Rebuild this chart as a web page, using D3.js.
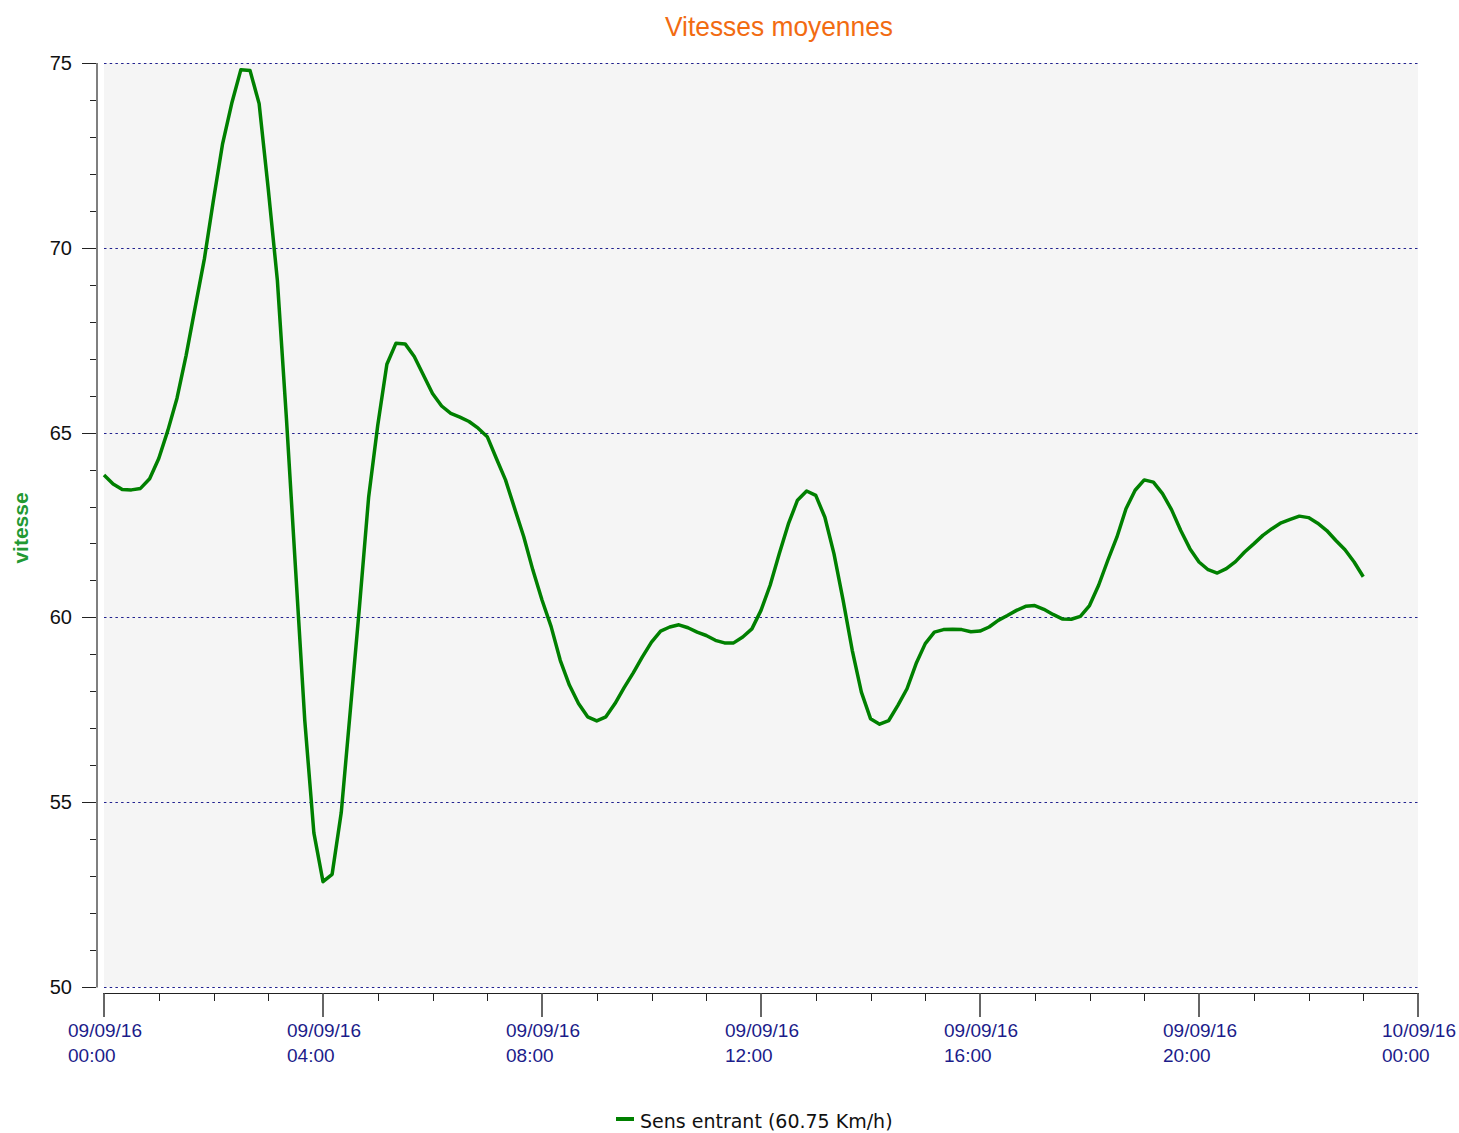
<!DOCTYPE html>
<html lang="fr">
<head>
  <meta charset="UTF-8" />
  <title>Vitesses moyennes</title>

  <!-- D3.js v7 -->
  <script src="https://d3js.org/d3.v7.min.js"></script>

  <style>
    body {
      margin: 0;
      background-color: #ffffff;
    }

    svg {
      display: block;
    }

    .title {
      font-family: "Liberation Sans", Arial, sans-serif;
      font-size: 28px;
      fill: #f26b11;
      text-anchor: middle;
    }

    .y-label {
      font-family: "Liberation Sans", Arial, sans-serif;
      font-size: 20px;
      fill: #111;
      text-anchor: end;
    }

    .x-label {
      font-family: "Liberation Sans", Arial, sans-serif;
      font-size: 19px;
      fill: #1c1c8a;
    }

    .y-title {
      font-family: "Liberation Sans", Arial, sans-serif;
      font-size: 21px;
      font-weight: bold;
      fill: #229933;
      text-anchor: middle;
    }

    .legend {
      font-family: "DejaVu Sans", Verdana, sans-serif;
      font-size: 19px;
      fill: #111;
    }

    .grid {
      stroke: #22228f;
      stroke-width: 1px;
      stroke-dasharray: 2.5 3.2;
    }

    .series {
      fill: none;
      stroke: #008000;
      stroke-width: 3.5px;
      stroke-linejoin: round;
    }
  </style>
</head>

<body>
  <svg id="chart" width="1459" height="1133"></svg>

  <script>
    // Data: average speed every 10 minutes, 09/09/16 00:00 -> 23:00
    const startTime = new Date(2016, 8, 9, 0, 0);
    const endTime = new Date(2016, 8, 10, 0, 0);
    const stepMinutes = 10;

    const speeds = [
      63.85, 63.61, 63.46, 63.45, 63.49, 63.75,   // 00:00
      64.30, 65.06, 65.93, 67.09, 68.40, 69.70,   // 01:00
      71.30, 72.82, 73.91, 74.82, 74.80, 73.90,   // 02:00
      71.59, 69.12, 65.35, 61.28, 57.22, 54.17,   // 03:00
      52.85, 53.05, 54.72, 57.50, 60.30, 63.25,   // 04:00
      65.20, 66.85, 67.42, 67.40, 67.06, 66.56,   // 05:00
      66.06, 65.72, 65.52, 65.42, 65.30, 65.12,   // 06:00
      64.89, 64.30, 63.72, 62.95, 62.18, 61.28,   // 07:00
      60.47, 59.75, 58.84, 58.17, 57.67, 57.31,   // 08:00
      57.20, 57.31, 57.67, 58.10, 58.50, 58.93,   // 09:00
      59.33, 59.63, 59.74, 59.80, 59.72, 59.60,   // 10:00
      59.51, 59.38, 59.31, 59.31, 59.47, 59.69,   // 11:00
      60.19, 60.87, 61.72, 62.53, 63.17, 63.42,   // 12:00
      63.30, 62.71, 61.72, 60.46, 59.11, 57.98,   // 13:00
      57.26, 57.11, 57.21, 57.62, 58.07, 58.75,   // 14:00
      59.29, 59.60, 59.67, 59.68, 59.67, 59.61,   // 15:00
      59.63, 59.74, 59.92, 60.05, 60.19, 60.30,   // 16:00
      60.32, 60.22, 60.08, 59.96, 59.95, 60.03,   // 17:00
      60.32, 60.87, 61.54, 62.17, 62.94, 63.44,   // 18:00
      63.72, 63.66, 63.35, 62.91, 62.35, 61.86,   // 19:00
      61.50, 61.29, 61.20, 61.32, 61.51, 61.77,   // 20:00
      61.99, 62.22, 62.40, 62.56, 62.65, 62.74,   // 21:00
      62.70, 62.55, 62.35, 62.08, 61.83, 61.50,   // 22:00
      61.10                                       // 23:00
    ];

    const yMajorTicks = [50, 55, 60, 65, 70, 75];
    const yMinorTicks = d3.range(50, 76, 1);
    const titleText = "Vitesses moyennes";
    const yTitleText = "vitesse";
    const legendText = "Sens entrant (60.75 Km/h)";

    const points = speeds.map((v, i) => ({
      t: d3.timeMinute.offset(startTime, i * stepMinutes),
      v: v
    }));

    const svg = d3.select("#chart");

    // Plot area
    const plotLeft = 104, plotRight = 1418, plotTop = 63, plotBottom = 987;

    const x = d3.scaleTime().domain([startTime, endTime]).range([plotLeft, plotRight]);
    const y = d3.scaleLinear().domain([50, 75]).range([plotBottom, plotTop]);

    // Background
    svg.append("rect")
      .attr("x", plotLeft)
      .attr("y", plotTop)
      .attr("width", plotRight - plotLeft)
      .attr("height", plotBottom - plotTop)
      .attr("fill", "#f5f5f5");

    // Dotted horizontal grid
    svg.selectAll(".grid")
      .data(yMajorTicks)
      .enter()
      .append("line")
      .attr("class", "grid")
      .attr("x1", plotLeft)
      .attr("x2", plotRight)
      .attr("y1", d => Math.round(y(d)) + 0.5)
      .attr("y2", d => Math.round(y(d)) + 0.5);

    // Y axis line + ticks
    svg.append("line")
      .attr("x1", 97).attr("x2", 97)
      .attr("y1", plotTop).attr("y2", plotBottom + 0.5)
      .attr("stroke", "#7f7f7f")
      .attr("stroke-width", 2);

    svg.selectAll(".y-tick")
      .data(yMinorTicks)
      .enter()
      .append("line")
      .attr("x1", d => yMajorTicks.includes(d) ? 82 : 90)
      .attr("x2", 96)
      .attr("y1", d => Math.round(y(d)) + 0.5)
      .attr("y2", d => Math.round(y(d)) + 0.5)
      .attr("stroke", "#222");

    svg.selectAll(".y-label")
      .data(yMajorTicks)
      .enter()
      .append("text")
      .attr("class", "y-label")
      .attr("x", 72)
      .attr("y", d => y(d) + 7)
      .text(d => d);

    // X axis line + ticks
    const axisY = 993.5;
    svg.append("line")
      .attr("x1", plotLeft - 1).attr("x2", plotRight + 1)
      .attr("y1", axisY).attr("y2", axisY)
      .attr("stroke", "#222");

    const hourTicks = x.ticks(d3.timeHour.every(1));
    const majorTicks = x.ticks(d3.timeHour.every(4));

    svg.selectAll(".x-minor")
      .data(hourTicks.filter(d => d.getHours() % 4 !== 0))
      .enter()
      .append("line")
      .attr("x1", d => Math.round(x(d)) + 0.5)
      .attr("x2", d => Math.round(x(d)) + 0.5)
      .attr("y1", axisY)
      .attr("y2", 1001)
      .attr("stroke", "#222");

    svg.selectAll(".x-major")
      .data(majorTicks)
      .enter()
      .append("line")
      .attr("x1", d => Math.round(x(d)))
      .attr("x2", d => Math.round(x(d)))
      .attr("y1", axisY)
      .attr("y2", 1017)
      .attr("stroke", "#666")
      .attr("stroke-width", 2);

    const fmtDate = d3.timeFormat("%d/%m/%y");
    const fmtHour = d3.timeFormat("%H:%M");

    const xLabels = svg.selectAll(".x-label")
      .data(majorTicks)
      .enter()
      .append("text")
      .attr("class", "x-label");

    xLabels.append("tspan")
      .attr("x", d => x(d) - 36)
      .attr("y", 1037)
      .text(d => fmtDate(d));

    xLabels.append("tspan")
      .attr("x", d => x(d) - 36)
      .attr("y", 1062)
      .text(d => fmtHour(d));

    // Series line
    const line = d3.line()
      .x(d => x(d.t))
      .y(d => y(d.v));

    svg.append("path")
      .datum(points)
      .attr("class", "series")
      .attr("d", line);

    // Title
    svg.append("text")
      .attr("class", "title")
      .attr("x", 779)
      .attr("y", 36)
      .attr("textLength", 228)
      .attr("lengthAdjust", "spacingAndGlyphs")
      .text(titleText);

    // Y axis title
    svg.append("text")
      .attr("class", "y-title")
      .attr("transform", "translate(28,528) rotate(-90)")
      .text(yTitleText);

    // Legend
    svg.append("line")
      .attr("x1", 616).attr("x2", 634)
      .attr("y1", 1119).attr("y2", 1119)
      .attr("stroke", "#008000")
      .attr("stroke-width", 4);

    svg.append("text")
      .attr("class", "legend")
      .attr("x", 640)
      .attr("y", 1128)
      .text(legendText);
  </script>
</body>
</html>
